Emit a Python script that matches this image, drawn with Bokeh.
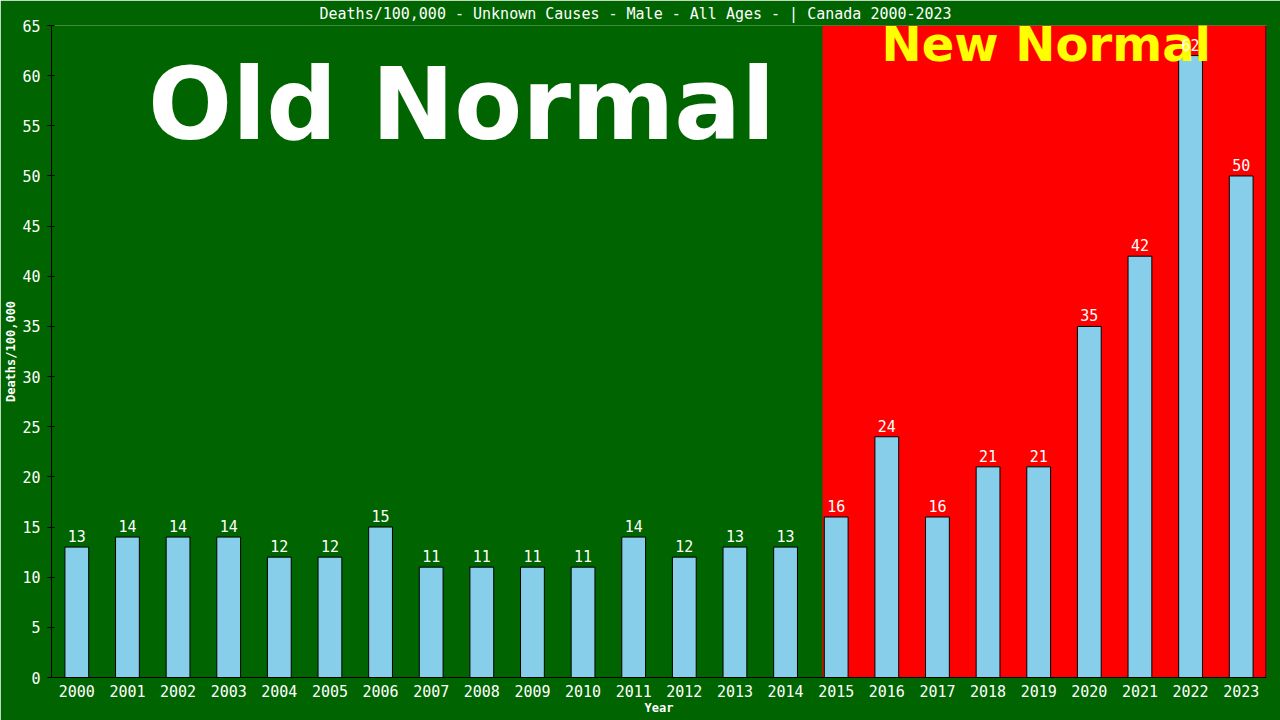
from bokeh.plotting import figure
from bokeh.models import (Range1d, FactorRange, FixedTicker, Span, BoxAnnotation,
                          Label, LabelSet, ColumnDataSource)
from bokeh.core.properties import value
from bokeh.embed import file_html
from bokeh.resources import INLINE

# ---- data ----
years = [str(y) for y in range(2000, 2024)]
deaths_per_100k = [13, 14, 14, 14, 12, 12, 15, 11, 11, 11, 11, 14, 12, 13, 13,
                   16, 24, 16, 21, 21, 35, 42, 62, 50]
y_ticks = list(range(0, 70, 5))
title_text = "Deaths/100,000 - Unknown Causes - Male - All Ages -  | Canada 2000-2023"

MONO = "DejaVu Sans Mono"
GREEN = "#006400"
RED = "#ff0000"

source = ColumnDataSource(data=dict(year=years, deaths=deaths_per_100k,
                                    label=[str(v) for v in deaths_per_100k]))

p = figure(width=1280, height=720, output_backend="svg", toolbar_location=None,
           x_range=FactorRange(*years, range_padding=0), y_range=Range1d(0, 65),
           min_border_left=51, min_border_right=14, min_border_top=25,
           min_border_bottom=43, background_fill_color=GREEN, border_fill_color=GREEN,
           outline_line_color=None)

p.xgrid.visible = False
p.ygrid.visible = False

# "new normal" region
p.add_layout(BoxAnnotation(left=15.23, fill_color=RED, fill_alpha=1.0,
                           line_color=None, level="underlay"))

# bars
p.vbar(x="year", top="deaths", source=source, width=0.47, fill_color="#87CEEB",
       line_color="black", line_width=1)

# title
p.title.text = title_text
p.title.text_font = MONO
p.title.text_font_style = "normal"
p.title.text_font_size = "15px"
p.title.text_color = "white"
p.title.align = "left"
p.title.offset = 268
p.title.standoff = 5

# y axis
ya = p.yaxis[0]
ya.ticker = FixedTicker(ticks=y_ticks)
ya.axis_line_color = "black"
ya.major_tick_line_color = "black"
ya.major_tick_in = 3
ya.major_tick_out = 4
ya.minor_tick_line_color = None
ya.major_label_text_color = "white"
ya.major_label_text_font = MONO
ya.major_label_text_font_size = "15px"
ya.major_label_standoff = 7
ya.axis_label = "Deaths/100,000"
ya.axis_label_text_font = MONO
ya.axis_label_text_font_style = "bold"
ya.axis_label_text_font_size = "12px"
ya.axis_label_text_color = "white"
ya.axis_label_standoff = 1

# x axis
xa = p.xaxis[0]
xa.axis_line_color = "black"
xa.major_tick_line_color = None
xa.minor_tick_line_color = None
xa.major_label_text_color = "white"
xa.major_label_text_font = MONO
xa.major_label_text_font_size = "15px"
xa.major_label_standoff = 1
xa.axis_label = "Year"
xa.axis_label_text_font = MONO
xa.axis_label_text_font_style = "bold"
xa.axis_label_text_font_size = "12px"
xa.axis_label_text_color = "white"
xa.axis_label_standoff = 1

# right border line
p.add_layout(Span(location=len(years), dimension="height", line_color="black", line_width=2))

# "New Normal" caption (under the value labels)
p.add_layout(Label(x=19.65, y=60.4, text="New Normal", text_font="DejaVu Sans",
                   text_font_style="bold", text_font_size="48px", text_color="#ffff00",
                   text_align="center", text_baseline="bottom"))

# value labels
p.add_layout(LabelSet(x="year", y="deaths", text="label", source=source,
                      text_font=value(MONO), text_font_size="15px", text_color="white",
                      text_align="center", text_baseline="bottom", y_offset=5))

# "Old Normal" caption
p.add_layout(Label(x=8.10, y=51.4, text="Old Normal", text_font="DejaVu Sans",
                   text_font_style="bold", text_font_size="99px", text_color="white",
                   text_align="center", text_baseline="bottom"))

open("out.html", "w").write(file_html(p, INLINE))
